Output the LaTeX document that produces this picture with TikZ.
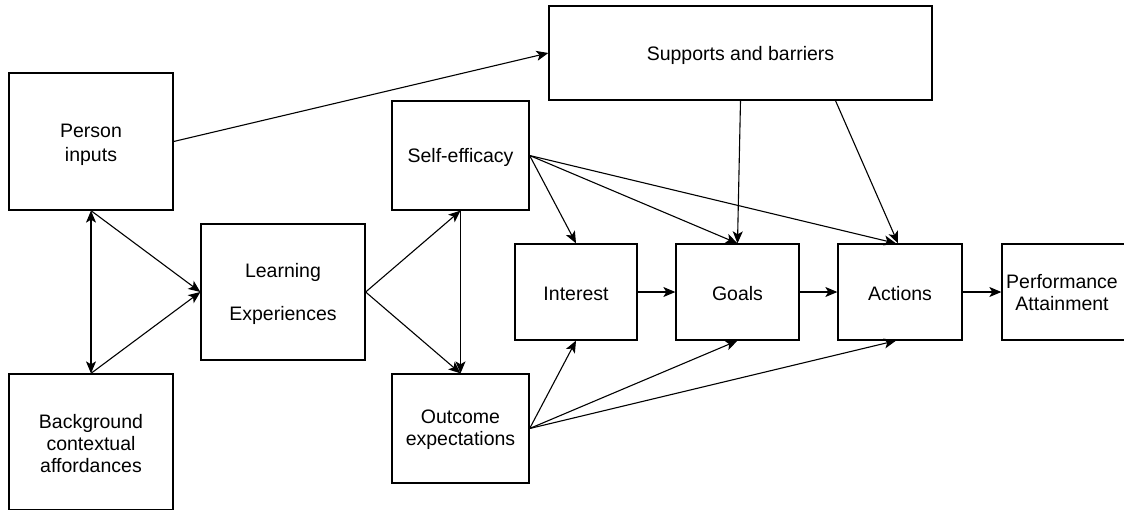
\documentclass[tikz,border=0pt]{standalone}
\usepackage{fontspec}
\setmainfont{Liberation Sans}
\usetikzlibrary{arrows.meta,calc}
\begin{document}
\begin{tikzpicture}[x=1pt,y=-1pt,
  box/.style={draw=black,line width=1.3pt,inner sep=0pt},
  lbl/.style={inner sep=0pt,align=center,font=\fontsize{19.5}{24}\selectfont},
  arr/.style={line width=1.1pt,-{Stealth[length=12pt,width=10pt,inset=3pt]}},
  darr/.style={line width=1.1pt,{Stealth[length=12pt,width=10pt,inset=3pt]}-{Stealth[length=12pt,width=10pt,inset=3pt]}}]
\useasboundingbox (0,0) rectangle (1124,509);
\clip (0,0) rectangle (1124,509);
\fill[white] (0,0) rectangle (1124,509);
\node[box,minimum width=164pt,minimum height=137pt] (person) at (91,141.5) {};
\node[lbl] (personT) at (91,144.5) {Person\\inputs};
\node[box,minimum width=164pt,minimum height=136pt] (background) at (91,442) {};
\node[lbl] (backgroundT) at (91,444) {Background\\[-2pt]contextual\\[-2pt]affordances};
\node[box,minimum width=164pt,minimum height=136pt] (learning) at (283,292) {};
\node[lbl] (learningT) at (283,294) {Learning\\[19pt]Experiences};
\node[box,minimum width=137pt,minimum height=109pt] (self) at (460.5,155.5) {};
\node[lbl] (selfT) at (460.5,157) {Self-efficacy};
\node[box,minimum width=137pt,minimum height=109pt] (outcome) at (460.5,428.5) {};
\node[lbl] (outcomeT) at (460.5,430) {Outcome\\[-2pt]expectations};
\node[box,minimum width=383pt,minimum height=94pt] (supports) at (740.5,53) {};
\node[lbl] (supportsT) at (740.5,55) {Supports and barriers};
\node[box,minimum width=122pt,minimum height=96pt] (interest) at (576,292) {};
\node[lbl] (interestT) at (576,294) {Interest};
\node[box,minimum width=123pt,minimum height=96pt] (goals) at (737.5,292) {};
\node[lbl] (goalsT) at (737.5,294) {Goals};
\node[box,minimum width=124pt,minimum height=96pt] (actions) at (900,292) {};
\node[lbl] (actionsT) at (900,294) {Actions};
\node[box,minimum width=124pt,minimum height=96pt] (perf) at (1064,292) {};
\node[lbl] (perfT) at (1062,293) {Performance\\[-2pt]Attainment};
\coordinate (supportsR) at ([xshift=95pt]supports.south);
\draw[arr] (person.east) -- (supports.west);
\draw[darr] (person.south) -- (background.north);
\draw[arr] (person.south) -- (learning.west);
\draw[arr] (background.north) -- (learning.west);
\draw[arr] (learning.east) -- (self.south);
\draw[arr] (learning.east) -- (outcome.north);
\draw[arr] (self.south) -- (outcome.north);
\draw[arr] (self.east) -- (interest.north);
\draw[arr] (self.east) -- (goals.north);
\draw[arr] (self.east) -- ([xshift=-4pt]actions.north);
\draw[arr] (supports.south) -- (goals.north);
\draw[arr] (supportsR) -- ([xshift=-2pt]actions.north);
\draw[arr] (outcome.east) -- (interest.south);
\draw[arr] (outcome.east) -- (goals.south);
\draw[arr] (outcome.east) -- ([xshift=-4pt]actions.south);
\draw[arr] (interest.east) -- (goals.west);
\draw[arr] (goals.east) -- (actions.west);
\draw[arr] (actions.east) -- (perf.west);
\end{tikzpicture}
\end{document}
